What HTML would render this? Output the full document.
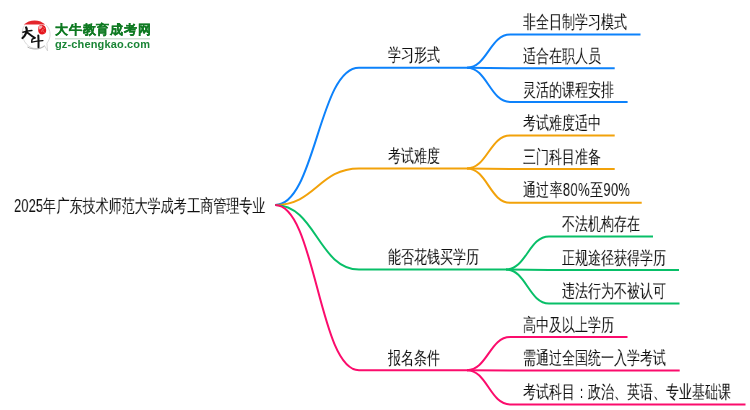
<!DOCTYPE html>
<html><head><meta charset="utf-8"><style>
html,body{margin:0;padding:0;background:#fff;width:750px;height:410px;overflow:hidden}
body{position:relative;font-family:"Liberation Sans",sans-serif;color:#111}
svg{position:absolute;left:0;top:0}
.m path{fill:none;stroke-width:2;stroke-linecap:butt}
.t,.c,.r{position:absolute;white-space:nowrap;font-size:18px;line-height:1;transform-origin:0 0;transform:scaleX(0.7222);will-change:transform}
</style></head><body>
<svg class="m" width="750" height="410" viewBox="0 0 750 410">
<path d="M275.20,205.00 C315.42,205.00 318.78,67.70 359.00,67.70 L467.00,67.70" stroke="#0d82fb"/>
<path d="M467.00,67.70 C487.00,67.70 490.00,34.60 510.00,34.60 L640.50,34.60" stroke="#0d82fb"/>
<path d="M467.00,67.70 L510.00,68.20 L614.70,68.20" stroke="#0d82fb"/>
<path d="M467.00,67.70 C487.00,67.70 490.00,101.90 510.00,101.90 L627.60,101.90" stroke="#0d82fb"/>
<path d="M275.20,205.00 C315.42,205.00 318.78,168.50 359.00,168.50 L467.00,168.50" stroke="#f2a20a"/>
<path d="M467.00,168.50 C487.00,168.50 490.00,135.50 510.00,135.50 L614.70,135.50" stroke="#f2a20a"/>
<path d="M467.00,168.50 L510.00,169.00 L614.70,169.00" stroke="#f2a20a"/>
<path d="M467.00,168.50 C487.00,168.50 490.00,202.75 510.00,202.75 L641.70,202.75" stroke="#f2a20a"/>
<path d="M275.20,205.00 C315.42,205.00 318.78,269.50 359.00,269.50 L506.00,269.50" stroke="#08bf68"/>
<path d="M506.00,269.50 C526.00,269.50 529.00,236.40 549.00,236.40 L653.00,236.40" stroke="#08bf68"/>
<path d="M506.00,269.50 L549.00,270.00 L679.00,270.00" stroke="#08bf68"/>
<path d="M506.00,269.50 C526.00,269.50 529.00,303.50 549.00,303.50 L679.50,303.50" stroke="#08bf68"/>
<path d="M275.20,205.00 C315.42,205.00 318.78,370.20 359.00,370.20 L467.00,370.20" stroke="#fb0c6c"/>
<path d="M467.00,370.20 C487.00,370.20 490.00,337.10 510.00,337.10 L627.50,337.10" stroke="#fb0c6c"/>
<path d="M467.00,370.20 L510.00,370.60 L679.70,370.60" stroke="#fb0c6c"/>
<path d="M467.00,370.20 C487.00,370.20 490.00,404.40 510.00,404.40 L745.50,404.40" stroke="#fb0c6c"/>
</svg>
<div class="r" style="left:14.20px;top:197.00px;letter-spacing:0.1px">2025年广东技术师范大学成考工商管理专业</div>
<div class="t" style="left:387.60px;top:46.00px">学习形式</div>
<div class="c" style="left:523.00px;top:13.00px">非全日制学习模式</div>
<div class="c" style="left:523.00px;top:47.00px">适合在职人员</div>
<div class="c" style="left:523.00px;top:81.00px">灵活的课程安排</div>
<div class="t" style="left:387.60px;top:147.00px">考试难度</div>
<div class="c" style="left:523.00px;top:114.00px">考试难度适中</div>
<div class="c" style="left:523.00px;top:148.00px">三门科目准备</div>
<div class="c" style="left:523.00px;top:181.00px;letter-spacing:0.45px">通过率80%至90%</div>
<div class="t" style="left:387.60px;top:248.00px">能否花钱买学历</div>
<div class="c" style="left:562.00px;top:215.00px">不法机构存在</div>
<div class="c" style="left:562.00px;top:249.00px">正规途径获得学历</div>
<div class="c" style="left:562.00px;top:282.00px">违法行为不被认可</div>
<div class="t" style="left:387.60px;top:349.00px">报名条件</div>
<div class="c" style="left:523.00px;top:316.00px">高中及以上学历</div>
<div class="c" style="left:523.00px;top:349.00px">需通过全国统一入学考试</div>
<div class="c" style="left:523.00px;top:383.00px">考试科目：政治、英语、专业基础课</div>
<svg style="position:absolute;left:0;top:0" width="160" height="60" viewBox="0 0 160 60">
<path d="M24.5,25.5 C22.8,28.0 22.1,31.0 22.3,33.8 C22.8,41.8 28.3,48.4 36.2,48.5 C39.5,48.4 42.5,47.3 44.5,45.6 L47.6,51.0 L46.9,43.2 C49.0,40.6 50.2,37.4 50.1,34.2 C50.0,30.5 48.4,27.2 46.0,25.0" fill="none" stroke="#cfcfcf" stroke-width="0.8"/>
<path d="M27.5,47.0 C30.0,48.5 33.5,49.2 36.5,49.0 C39.6,48.8 42.4,47.6 44.6,46.0" fill="none" stroke="#b0b0b0" stroke-width="1.0"/>
<path d="M23.8,24.6 C26.5,21.9 30.6,20.4 34.6,20.4 C38.8,20.4 42.6,21.9 45.2,24.6 Z" fill="#e4252c"/>
<path d="M38.4,27.0 C38.8,25.2 41.2,24.7 43.4,25.2 C45.4,25.8 46.2,28.2 46.2,30.6 C46.3,33.0 44.8,34.6 42.2,34.5 C39.6,34.4 38.2,32.6 38.2,30.2 Z" fill="#e5161d"/>
<path d="M38.8,26.6 C39.6,25.4 41.6,25.2 42.6,26.0 C42.4,27.6 41.2,28.9 39.4,29.4 C38.8,28.6 38.6,27.6 38.8,26.6 Z" fill="#f7c7c9" opacity="0.85"/>
<path d="M43.6,27.4 l0.9,1.4 M41.0,31.2 l1.6,-0.4 M43.4,31.4 l0.9,1.0 M42.2,29.6 l1.4,0.3" stroke="#f6b3b6" stroke-width="0.6" fill="none"/>
<path d="M22.9,32.2 C25.5,31.6 29.0,30.9 31.9,30.6" stroke="#111" stroke-width="1.5" fill="none" stroke-linecap="round"/>
<path d="M26.1,27.4 C27.0,29.0 26.9,31.6 25.5,34.2 C24.7,35.8 23.6,37.1 22.5,38.0" stroke="#111" stroke-width="2.2" fill="none" stroke-linecap="round"/>
<path d="M27.4,32.7 C29.4,34.3 32.0,36.4 34.8,37.9" stroke="#111" stroke-width="1.9" fill="none" stroke-linecap="round"/>
<path d="M34.8,37.9 C33.8,38.4 32.6,38.9 32.1,39.4 C31.8,40.3 31.7,41.3 31.8,42.0" stroke="#111" stroke-width="1.5" fill="none" stroke-linecap="round" stroke-linejoin="round"/>
<path d="M31.8,42.1 C35.5,41.3 39.5,40.8 42.9,40.6" stroke="#111" stroke-width="1.4" fill="none" stroke-linecap="round"/>
<path d="M38.3,35.4 C38.6,39.0 38.6,43.5 38.5,47.3" stroke="#111" stroke-width="2.0" fill="none" stroke-linecap="round"/>
<path d="M55,38.7 L150,38.7" stroke="#cfe0d2" stroke-width="1.4"/>
</svg>
<div style="position:absolute;left:54.8px;top:23px;font-size:13px;line-height:1;font-weight:bold;color:#0f7a22;white-space:nowrap;letter-spacing:0.8px;will-change:transform;-webkit-text-stroke:0.25px #0f7a22">大牛教育成考网</div>
<div style="position:absolute;left:55.2px;top:39px;font-size:11px;line-height:1;font-weight:bold;color:#1a8536;white-space:nowrap;letter-spacing:0.15px;will-change:transform">gz-chengkao.com</div>

</body></html>
